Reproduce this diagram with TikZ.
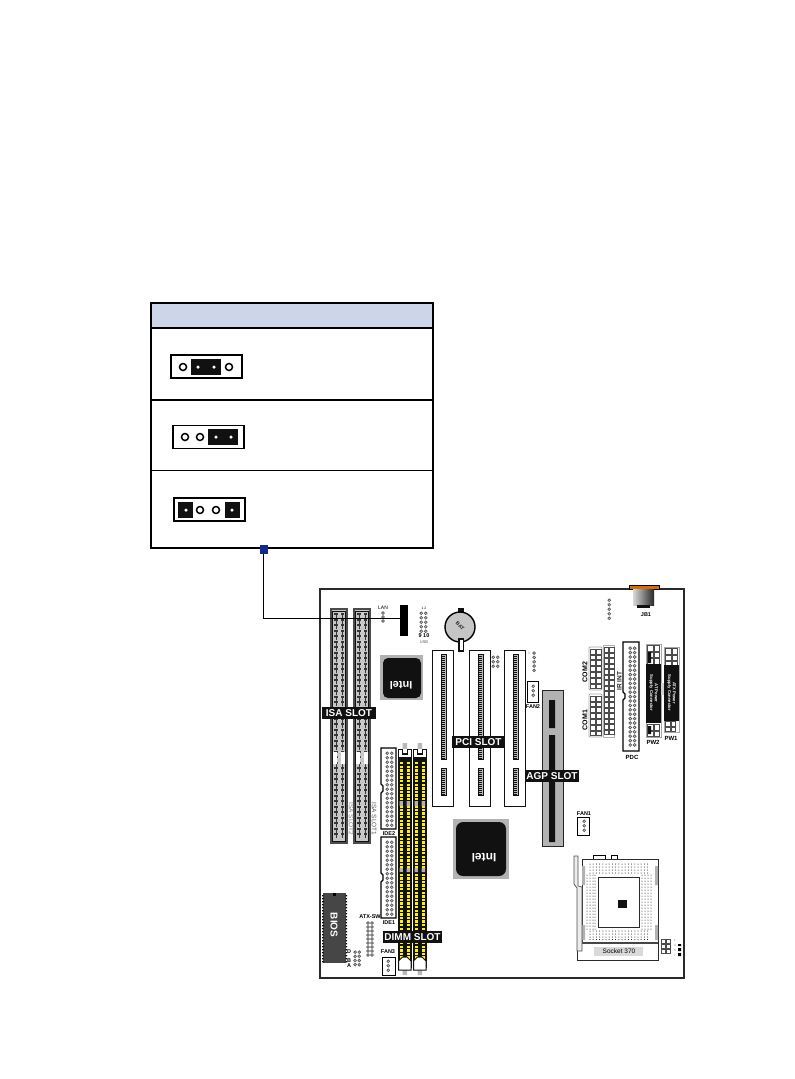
\documentclass[tikz,border=0pt]{standalone}
\usepackage{fontspec}
\setmainfont{Liberation Sans}
\definecolor{headblue}{HTML}{CDD5E8}
\definecolor{tagblue}{HTML}{14288C}
\definecolor{boardline}{HTML}{2A2A2A}
\definecolor{ramyellow}{HTML}{FFF200}
\definecolor{capblack}{HTML}{111111}
\newcommand{\pinblock}[5]{% x, y, columns, rows, pitch
	\foreach \c in {1,...,#3}{\foreach \r in {1,...,#4}{
		\draw[gray!70!black,line width=.7pt,fill=gray!35] ({#1+(\c-.5)*#5},{#2+(\r-.5)*#5}) circle ({#5*.33});
	}}}
\newcommand{\squareblock}[5]{% x, y, columns, rows, pitch
	\foreach \c in {1,...,#3}{\foreach \r in {1,...,#4}{
		\draw[gray!60!black,line width=.6pt] ({#1+(\c-1)*#5+.5},{#2+(\r-1)*#5+.5}) rectangle ++({#5-1},{#5-1});
	}}}
\newcommand{\isaslot}[1]{% left edge
	\fill[gray!45] (#1,609) rectangle (#1+16,843);
	\draw[gray!60!black,line width=1.1pt] (#1,609) rectangle (#1+16,843);
	\draw[capblack,line width=.5pt] (#1+1.5,611) rectangle (#1+14.5,841);
	\foreach \y in {613,618.5,...,838}{
		\fill[capblack!85] (#1+3,\y) rectangle (#1+13,\y+2.4);
		\fill[gray!35] (#1+6.5,\y) rectangle (#1+9.5,\y+2.4);
		\draw[capblack!85,line width=.7pt] (#1+5,\y) -- (#1+5,\y+5) (#1+11,\y) -- (#1+11,\y+5);
	}
	\fill[white] (#1+2,752) rectangle (#1+6,764) (#1+10,752) rectangle (#1+14,764);
}
\newcommand{\dimmslot}[1]{% left edge
	\fill[capblack] (#1,752) rectangle (#1+13.5,968);
	\foreach \y in {762,765.6,...,962}{
		\fill[ramyellow] (#1+1.5,\y) rectangle (#1+4.8,\y+2.3);
		\fill[ramyellow] (#1+8.5,\y) rectangle (#1+12,\y+2.3);
	}
	\fill[gray!60] (#1+1.5,801) rectangle (#1+4.8,806) (#1+8.5,801) rectangle (#1+12,806);
	\fill[gray!60] (#1+1.5,868) rectangle (#1+4.8,872) (#1+8.5,868) rectangle (#1+12,872);
	\fill[gray!55] (#1+4.5,743) rectangle (#1+9,749) (#1+4.5,970) rectangle (#1+9,975);
	\draw[capblack,fill=white,line width=1pt] (#1+.5,749) rectangle (#1+13,757);
	\fill[capblack] (#1+3.5,749) rectangle (#1+10,755);
	\fill[white] (#1+5,749) rectangle (#1+8.5,753);
	\draw[capblack,fill=white,line width=1pt] (#1+.5,961) -- (#1+.5,970) -- (#1+13,970) -- (#1+13,961) -- (#1+9,957) -- (#1+4.5,957) -- cycle;
}
\newcommand{\pcislot}[1]{% left edge
	\draw[capblack,line width=1pt,fill=white] (#1,650) rectangle (#1+21,806);
	\fill[gray!55] (#1+9,654) rectangle (#1+14,759) (#1+9,768) rectangle (#1+14,795);
	\draw[capblack,line width=.6pt] (#1+9,654) rectangle (#1+14,759) (#1+9,768) rectangle (#1+14,795);
	\foreach \y in {656,658,...,758}{\draw[capblack,line width=.4pt] (#1+10,\y) -- (#1+13,\y);}
	\foreach \y in {770,772,...,794}{\draw[capblack,line width=.4pt] (#1+10,\y) -- (#1+13,\y);}
}
\begin{document}
\begin{tikzpicture}[x=1pt,y=-1pt]
	\useasboundingbox (0,0) rectangle (795,1079);
	\tikzstyle{every node}=[inner sep=0pt,outer sep=0pt]
	\tikzstyle{jpbox}=[draw=black,fill=white,line width=1.3pt,minimum width=71,minimum height=23]
	\tikzstyle{jpcap}=[fill=capblack,minimum height=16]
	\tikzstyle{pinopen}=[circle,draw=black,fill=white,line width=1.5pt,minimum size=7]
	\tikzstyle{pinshut}=[circle,fill=white,minimum size=3.5]
	\tikzstyle{slotlabel}=[fill=capblack,text=white,font=\fontsize{10}{10}\selectfont\bfseries,minimum height=12]
	\tikzstyle{small}=[font=\fontsize{5.5}{5.5}\selectfont\bfseries]
	\tikzstyle{tiny}=[text=white,font=\fontsize{4.2}{4.8}\selectfont\bfseries,align=center]
	%table
	\fill[headblue] (151,303) rectangle (433,328);
	\draw[black,line width=1.3pt] (151,328) -- (433,328) (151,400) -- (433,400);
	\draw[black,line width=.7pt] (151,470) -- (433,470);
	\draw[black,line width=1.6pt] (151,303) rectangle (433,548);
	%first jumper
	\node[jpbox] (jpA) at (206.5,366.5) {};
	\node[jpcap,minimum width=30] (capA) at (206,367) {};
	\node[pinopen] (pinAa) at (183,367) {};
	\node[pinshut] (pinAb) at (198,367) {};
	\node[pinshut] (pinAc) at (214,367) {};
	\node[pinopen] (pinAd) at (229,367) {};
	%second jumper
	\node[jpbox] (jpB) at (208.5,437) {};
	\node[jpcap,minimum width=30] (capB) at (223,437) {};
	\node[pinopen] (pinBa) at (185,437) {};
	\node[pinopen] (pinBb) at (200,437) {};
	\node[pinshut] (pinBc) at (216,437) {};
	\node[pinshut] (pinBd) at (231,437) {};
	%third jumper
	\node[jpbox] (jpC) at (209.5,509.5) {};
	\node[jpcap,minimum width=15] (capCa) at (185.5,510) {};
	\node[jpcap,minimum width=15] (capCb) at (232.5,510) {};
	\node[pinshut] (pinCa) at (186,510) {};
	\node[pinopen] (pinCb) at (200,510) {};
	\node[pinopen] (pinCc) at (216,510) {};
	\node[pinshut] (pinCd) at (232,510) {};
	%board
	\draw[boardline,line width=1.4pt] (320,589) rectangle (684,978);
	\isaslot{331}
	\isaslot{354}
	\node[text=gray,font=\fontsize{6.5}{7}\selectfont,rotate=-90] (isatwo) at (351,819) {ISA SLOT2};
	\node[text=gray!70!black,font=\fontsize{6.5}{7}\selectfont,rotate=-90] (isaone) at (374,819) {ISA SLOT1};
	%lan and usb
	\node[small,font=\fontsize{5}{5}\selectfont] (lantxt) at (383,608) {LAN};
	\pinblock{381}{611}{1}{3}{4}
	\pinblock{419}{611}{2}{5}{4.5}
	\node[small,font=\fontsize{3.5}{4}\selectfont] (usbone) at (424,608.5) {1 2};
	\node[small] (usbten) at (424,636) {9 10};
	\node[small,font=\fontsize{4}{4}\selectfont,text=gray!70!black] (usbtxt) at (424,642) {USB};
	\node[fill=black,minimum width=8,minimum height=31] (lanblk) at (404,620.5) {};
	%battery
	\fill[capblack] (458,608) rectangle (464,613);
	\draw[black,fill=gray!45,line width=1.4pt] (460,627) circle (15);
	\fill[capblack] (458,638) rectangle (464,652);
	\fill[white] (459.5,640) rectangle (462.5,650);
	\node[rotate=-45,text=gray!25!black,font=\fontsize{5}{5}\selectfont\bfseries] (battxt) at (460,626) {BAT};
	%chips
	\fill[gray!60] (380,655) rectangle (423,700);
	\fill[gray!60] (453,819) rectangle (509,879);
	\fill[capblack,rounded corners=5pt] (383,658) rectangle (421,698);
	\fill[capblack,rounded corners=7pt] (456,822) rectangle (506,876);
	\node[rotate=180,text=white,font=\fontsize{11}{11}\selectfont\bfseries] (northtxt) at (401,685) {Intel};
	\node[rotate=180,text=white,font=\fontsize{12}{12}\selectfont\bfseries] (southtxt) at (484,858) {Intel};
	%pci and agp
	\pcislot{432}
	\pcislot{469}
	\pcislot{504}
	\pinblock{491}{655}{2}{3}{4.5}
	\pinblock{532}{651}{1}{5}{4.3}
	\node[small,font=\fontsize{3.5}{4}\selectfont,text=gray] (pcipin) at (529,653) {1};
	\draw[black,line width=.8pt] (527,681) rectangle (538,702);
	\pinblock{531}{684}{1}{3}{4.5}
	\node[small] (fantwo) at (533,706.5) {FAN2};
	\fill[gray!60] (542,690) rectangle (563,846);
	\draw[gray!30!black,line width=1pt] (542,690) rectangle (563,846);
	\fill[capblack] (549,700) rectangle (555,728) (549,735) rectangle (555,842);
	%dimm and ide
	\dimmslot{398}
	\dimmslot{413}
	\draw[black,line width=1.1pt] (381,748) -- (396,748) -- (396,829) -- (381,829) -- (381,793) -- (383,791) -- (383,786) -- (381,784) -- cycle;
	\pinblock{385}{751}{2}{17}{4.5}
	\draw[black,line width=1.1pt] (381,837) -- (396,837) -- (396,918) -- (381,918) -- (381,882) -- (383,880) -- (383,875) -- (381,873) -- cycle;
	\pinblock{385}{840}{2}{17}{4.5}
	\node[small] (idetwo) at (389,834) {IDE2};
	\node[small] (ideone) at (389,923) {IDE1};
	%bios corner
	\fill[gray!55!black] (323,893) rectangle (346,963);
	\foreach \y in {895,898,...,962}{\fill[black] (322,\y) rectangle (323.5,\y+1.4) (345.5,\y) rectangle (347,\y+1.4);}
	\fill[black] (333,893) rectangle (336,896);
	\node[rotate=-90,text=white,font=\fontsize{10}{10}\selectfont\bfseries] (biostxt) at (334,925) {BIOS};
	\node[small] (swtxt) at (370,917) {ATX-SW};
	\pinblock{366}{921}{2}{9}{4}
	\pinblock{353}{950}{2}{4}{4.2}
	\node[small] (ledd) at (349,952) {D};
	\node[small] (ledb) at (349,961) {B};
	\node[small] (leda) at (349,966) {A};
	\node[small] (fanthree) at (388,952) {FAN3};
	\draw[black,line width=.8pt] (382,957) rectangle (395,975);
	\pinblock{386}{959}{1}{3}{4.5}
	%rear connectors
	\fill[orange!85!black] (629,585) rectangle (659,589);
	\draw[black,line width=.5pt] (629,585) rectangle (659,589);
	\shade[left color=gray!30,right color=black!85] (633,589) rectangle (654,605);
	\fill[capblack] (637,605) rectangle (650,608);
	\node[small] (jbtxt) at (646,615) {JB1};
	\pinblock{607}{598}{1}{5}{4.5}
	\draw[gray!70,line width=.8pt,rounded corners=1pt] (589,647) rectangle (602,690) (589,694) rectangle (602,737);
	\squareblock{590}{648.5}{2}{7}{5.8}
	\squareblock{590}{695.5}{2}{7}{5.8}
	\draw[gray!60,line width=.8pt] (603,645) rectangle (614,737);
	\squareblock{603.5}{647}{2}{16}{5.5}
	\node[rotate=90,font=\fontsize{7}{7}\selectfont\bfseries] (comtwo) at (585,672) {COM2};
	\node[rotate=90,font=\fontsize{7}{7}\selectfont\bfseries] (comone) at (585,720) {COM1};
	\node[rotate=90,font=\fontsize{6.5}{7}\selectfont\bfseries,text=gray!30!black] (irtxt) at (619.5,681) {IR INT};
	%floppy
	\draw[black,line width=1.3pt,fill=white] (623,642) -- (639,642) -- (639,751) -- (623,751) -- (623,700) -- (625,698) -- (625,694) -- (623,692) -- cycle;
	\pinblock{628}{646}{2}{23}{4.4}
	\node[small,font=\fontsize{6}{6}\selectfont\bfseries] (fdctxt) at (632,757.5) {PDC};
	%power
	\draw[gray!70,line width=.8pt] (646,644) rectangle (661,737);
	\squareblock{647}{645}{2}{3}{6.5}
	\squareblock{647}{724}{2}{2}{6.5}
	\fill[capblack] (648,652) rectangle (651,663) (648,726) rectangle (651,734);
	\fill[capblack] (646,664) rectangle (661,723);
	\node[tiny,rotate=-90] (pwtwotxt) at (653.5,693) {AT Power\\Supply Connector};
	\node[small,font=\fontsize{6}{6}\selectfont\bfseries] (pwtwo) at (653,742.5) {PW2};
	\draw[gray!70,line width=.8pt] (664,647) rectangle (679,732);
	\squareblock{665}{648}{2}{3}{6.5}
	\squareblock{665}{721}{2}{2}{5.5}
	\fill[capblack] (664,665) rectangle (679,721);
	\node[tiny,rotate=-90] (pwonetxt) at (671.5,693) {ATX Power\\Supply Connector};
	\node[small,font=\fontsize{6}{6}\selectfont\bfseries] (pwone) at (671,738.5) {PW1};
	\fill[gray!35] (661,683) rectangle (664,695);
	%cpu socket
	\node[small] (fanone) at (584,813.5) {FAN1};
	\draw[black,line width=.8pt] (577,817) rectangle (589,835);
	\pinblock{582}{819}{1}{3}{4.5}
	\draw[black,line width=.7pt] (593,855) rectangle (605,859) (611,855) rectangle (617,859);
	\draw[boardline,line width=.9pt] (582,859) rectangle (658,943);
	\draw[boardline,line width=.8pt] (577,943) rectangle (658,960);
	\fill[gray!55!black] (582,942) rectangle (658,944);
	\foreach \x in {590,593.2,...,650}{
		\foreach \y in {864,867,870,873,931,934,937,939.5}{\fill[black] (\x,\y) circle (.5);}
	}
	\foreach \y in {875,878,...,930}{
		\foreach \x in {587,590,593,595}{\fill[black] (\x,\y) circle (.5);}
		\foreach \x in {642,645,648,651}{\fill[black] (\x,\y) circle (.5);}
	}
	\draw[boardline,fill=white,line width=.9pt] (598,877) rectangle (639,927);
	\fill[capblack] (618,900) rectangle (627,908);
	\fill[gray!60] (582,866) rectangle (585,885) (582,925) rectangle (585,940);
	\fill[gray!60] (655,866) rectangle (658,885) (655,925) rectangle (658,940);
	\draw[gray!60!black,fill=gray!15,line width=.7pt] (574,856) -- (578,856) -- (578,886) -- (582,887) -- (582,951) -- (577,951) -- (577,888) -- (574,884) -- cycle;
	\fill[gray!30] (594,947) rectangle (643,956);
	\node[font=\fontsize{6.5}{7}\selectfont] (socktxt) at (619,951.5) {Socket 370};
	\squareblock{661}{938.5}{2}{3}{5}
	\node[small,font=\fontsize{3}{3}\selectfont,text=gray] (hdone) at (675,940) {1};
	\node[small,font=\fontsize{3}{3}\selectfont,text=gray] (hdtwo) at (675,945) {3};
	\node[small,font=\fontsize{3}{3}\selectfont,text=gray] (hdthree) at (675,950) {5};
	\node[small,font=\fontsize{3}{3}\selectfont,text=gray] (hdfour) at (675,955) {7};
	\fill[black] (678,944) rectangle (681,946) (678,948) rectangle (681,951) (678,953) rectangle (681,956);
	%slot names
	\node[slotlabel,minimum width=54] (isalabel) at (349,713) {ISA SLOT};
	\node[slotlabel,minimum width=53] (pcilabel) at (478.5,742) {PCI SLOT};
	\node[slotlabel,minimum width=54] (agplabel) at (552,776) {AGP SLOT};
	\node[slotlabel,minimum width=59] (dimmlabel) at (412.5,937) {DIMM SLOT};
	%leader
	\node[fill=tagblue,minimum width=8,minimum height=8.5] (tagsq) at (264,549.5) {};
	\coordinate (leadend) at (400,618.5);
	\draw[black,line width=1.4pt] (tagsq.south -| 263.5,0) |- (leadend);
\end{tikzpicture}
\end{document}
